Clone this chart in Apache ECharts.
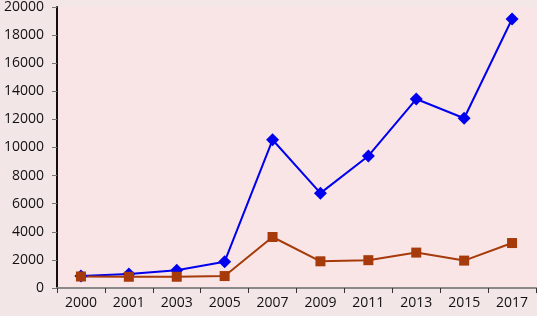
<!DOCTYPE html>
<html><head><meta charset="utf-8">
<script src="https://cdn.jsdelivr.net/npm/echarts@6/dist/echarts.min.js"></script>
<style>html,body{margin:0;padding:0;background:#F2E6E7;}#c{width:537px;height:316px;}</style>
</head><body><div id="c"></div>
<script>
const categories = ['2000','2001','2003','2005','2007','2009','2011','2013','2015','2017'];
const blueValues = [850, 1000, 1270, 1870, 10550, 6750, 9400, 13450, 12080, 19150];
const brownValues = [820, 800, 800, 850, 3630, 1900, 1980, 2520, 1950, 3200];

const chart = echarts.init(document.getElementById('c'), null, {renderer: 'canvas'});
chart.setOption({
  backgroundColor: '#F2E6E7',
  animation: false,
  textStyle: {fontFamily: 'Open Sans'},
  grid: {left: 57, right: 1, top: 5, bottom: 28, show: true, backgroundColor: '#F9E5E6', borderWidth: 0},
  xAxis: {
    type: 'category', data: categories, boundaryGap: true,
    axisLine: {lineStyle: {color: '#8a8a8a', width: 2}},
    axisTick: {show: true, length: 5, lineStyle: {color: '#333'}},
    axisLabel: {color: '#111', fontSize: 14, margin: 8, fontFamily: 'Open Sans'}
  },
  yAxis: {
    type: 'value', min: 0, max: 20000, interval: 2000,
    axisLine: {show: true, lineStyle: {color: '#111', width: 2}},
    axisTick: {show: true, length: 5, lineStyle: {color: '#777'}},
    splitLine: {show: false},
    axisLabel: {color: '#111', fontSize: 14, margin: 13, fontFamily: 'Open Sans', formatter: v => String(v)}
  },
  series: [
    {type: 'line', data: blueValues, symbol: 'diamond', symbolSize: 13,
     lineStyle: {color: '#0000EE', width: 2}, itemStyle: {color: '#0000EE'}},
    {type: 'line', data: brownValues, symbol: 'rect', symbolSize: 10,
     lineStyle: {color: '#A63A0A', width: 2}, itemStyle: {color: '#A63A0A'}}
  ]
});
</script></body></html>
